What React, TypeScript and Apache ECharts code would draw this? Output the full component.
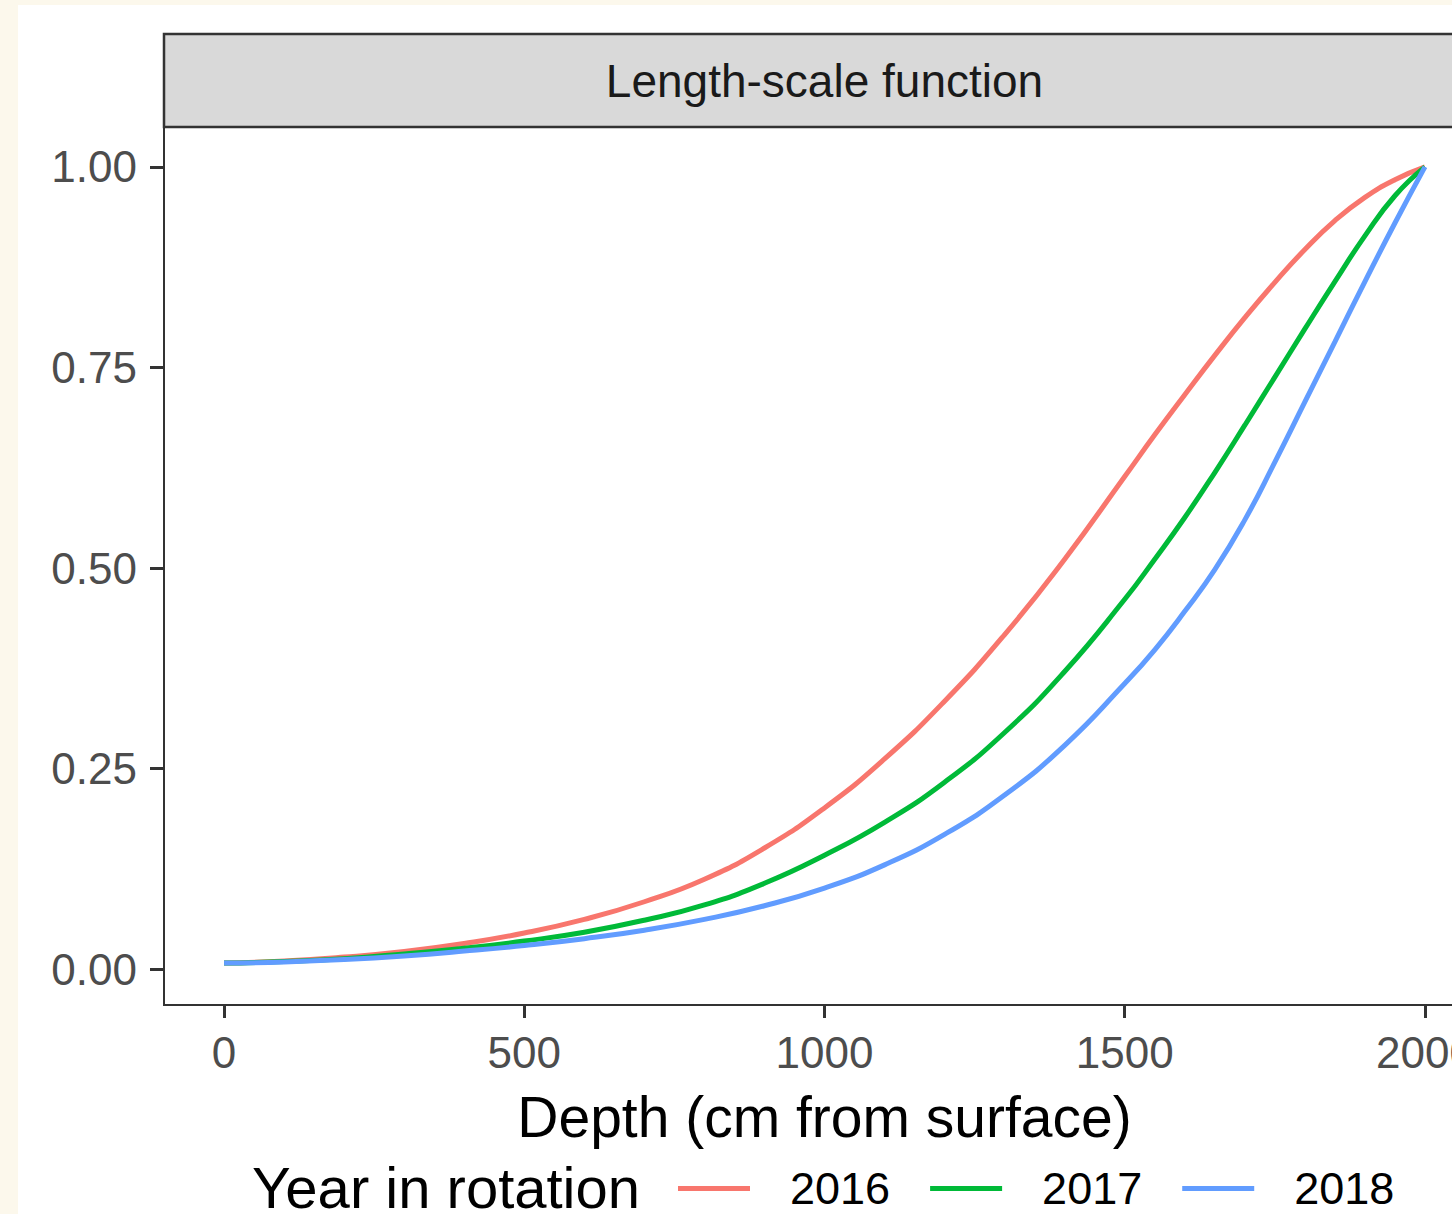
import React, { useEffect, useRef } from "react";
import * as echarts from "echarts";

const depth = [0, 100, 200, 300, 400, 500, 600, 700, 800, 900, 1000, 1100, 1200, 1300, 1400, 1500, 1550, 1600, 1650, 1700, 1750, 1800, 1850, 1900, 1950, 2000];
const years = ["2016", "2017", "2018"];
const colors = ["#F8766D", "#00BA38", "#619CFF"];
const y2016 = [0.0075, 0.010, 0.015, 0.022, 0.032, 0.045, 0.062, 0.084, 0.112, 0.151, 0.201, 0.262, 0.334, 0.417, 0.511, 0.614, 0.666, 0.716, 0.765, 0.812, 0.856, 0.897, 0.933, 0.962, 0.984, 1.0];
const y2017 = [0.0075, 0.0095, 0.013, 0.019, 0.026, 0.035, 0.046, 0.061, 0.080, 0.107, 0.142, 0.183, 0.233, 0.295, 0.371, 0.461, 0.511, 0.563, 0.619, 0.678, 0.738, 0.798, 0.857, 0.914, 0.964, 1.0];
const y2018 = [0.0075, 0.009, 0.012, 0.0165, 0.0225, 0.0295, 0.038, 0.0485, 0.062, 0.079, 0.101, 0.130, 0.168, 0.217, 0.279, 0.356, 0.398, 0.446, 0.498, 0.560, 0.632, 0.707, 0.782, 0.857, 0.930, 1.0];
const seriesValues = [y2016, y2017, y2018];
const xTicks = [0, 500, 1000, 1500, 2000];
const yTicks = [0, 0.25, 0.5, 0.75, 1];
const stripTitle = "Length-scale function";
const xTitle = "Depth (cm from surface)";
const legendTitle = "Year in rotation";

export default function App() {
  const ref = useRef<HTMLDivElement>(null);
  useEffect(() => {
    const chart = echarts.init(ref.current!, null, { renderer: "svg" });
    const font = "'Liberation Sans', Arial, Helvetica, sans-serif";
    chart.setOption({
      animation: false,
      backgroundColor: "transparent",
      grid: {
        left: 164,
        top: 127,
        width: 1321,
        height: 878,
        show: true,
        borderColor: "#333333",
        borderWidth: 2,
        backgroundColor: "#ffffff",
        containLabel: false,
      },
      xAxis: {
        type: "value",
        min: -100,
        max: 2100,
        name: xTitle,
        nameLocation: "middle",
        nameGap: 83,
        nameTextStyle: { fontSize: 57, color: "#000000", fontFamily: font },
        axisLine: { show: false, onZero: false },
        splitLine: { show: false },
        axisTick: { show: true, length: 13, lineStyle: { color: "#333333", width: 3 }, customValues: xTicks },
        axisLabel: {
          customValues: xTicks,
          fontSize: 44,
          color: "#4d4d4d",
          margin: 25,
          fontFamily: font,
          formatter: (v: number) => String(v),
        },
      },
      yAxis: {
        type: "value",
        min: -0.0447,
        max: 1.0497,
        axisLine: { show: false, onZero: false },
        splitLine: { show: false },
        axisTick: { show: true, length: 14, lineStyle: { color: "#333333", width: 3 }, customValues: yTicks },
        axisLabel: {
          customValues: yTicks,
          fontSize: 44,
          color: "#4d4d4d",
          margin: 27,
          fontFamily: font,
          formatter: (v: number) => v.toFixed(2),
        },
      },
      legend: {
        left: 678,
        top: 1166,
        padding: 0,
        icon: "rect",
        itemWidth: 72,
        itemHeight: 5,
        itemGap: 40,
        data: years,
        textStyle: { fontSize: 45, lineHeight: 45, color: "#000000", fontFamily: font, padding: [0, 0, 0, 35] },
      },
      graphic: [
        {
          type: "rect",
          shape: { x: 164, y: 34, width: 1400, height: 93 },
          style: { fill: "#d9d9d9", stroke: "#333333", lineWidth: 2.5 },
        },
        {
          type: "text",
          x: 824.5,
          y: 81,
          style: {
            text: stripTitle,
            fontSize: 46,
            fontFamily: font,
            fill: "#1a1a1a",
            align: "center",
            verticalAlign: "middle",
          },
        },
        {
          type: "text",
          x: 252,
          y: 1187,
          style: {
            text: legendTitle,
            fontSize: 58,
            lineHeight: 46,
            fontFamily: font,
            fill: "#000000",
            align: "left",
            verticalAlign: "middle",
          },
        },
      ],
      series: years.map((name, i) => ({
        type: "line",
        name,
        data: depth.map((d, j) => [d, seriesValues[i][j]]),
        showSymbol: false,
        symbol: "none",
        smooth: 0.5,
        lineStyle: { width: 5, color: colors[i] },
        itemStyle: { color: colors[i] },
      })),
    });
    return () => chart.dispose();
  }, []);
  return (
    <div style={{ position: "fixed", left: 0, top: 0, width: 1452, height: 1214, overflow: "hidden", background: "#fcf8ec" }}>
      <div style={{ position: "absolute", left: 18, top: 5, width: 1500, height: 1300, background: "#ffffff" }} />
      <div ref={ref} style={{ position: "absolute", left: 0, top: 0, width: 1500, height: 1214 }} />
    </div>
  );
}
